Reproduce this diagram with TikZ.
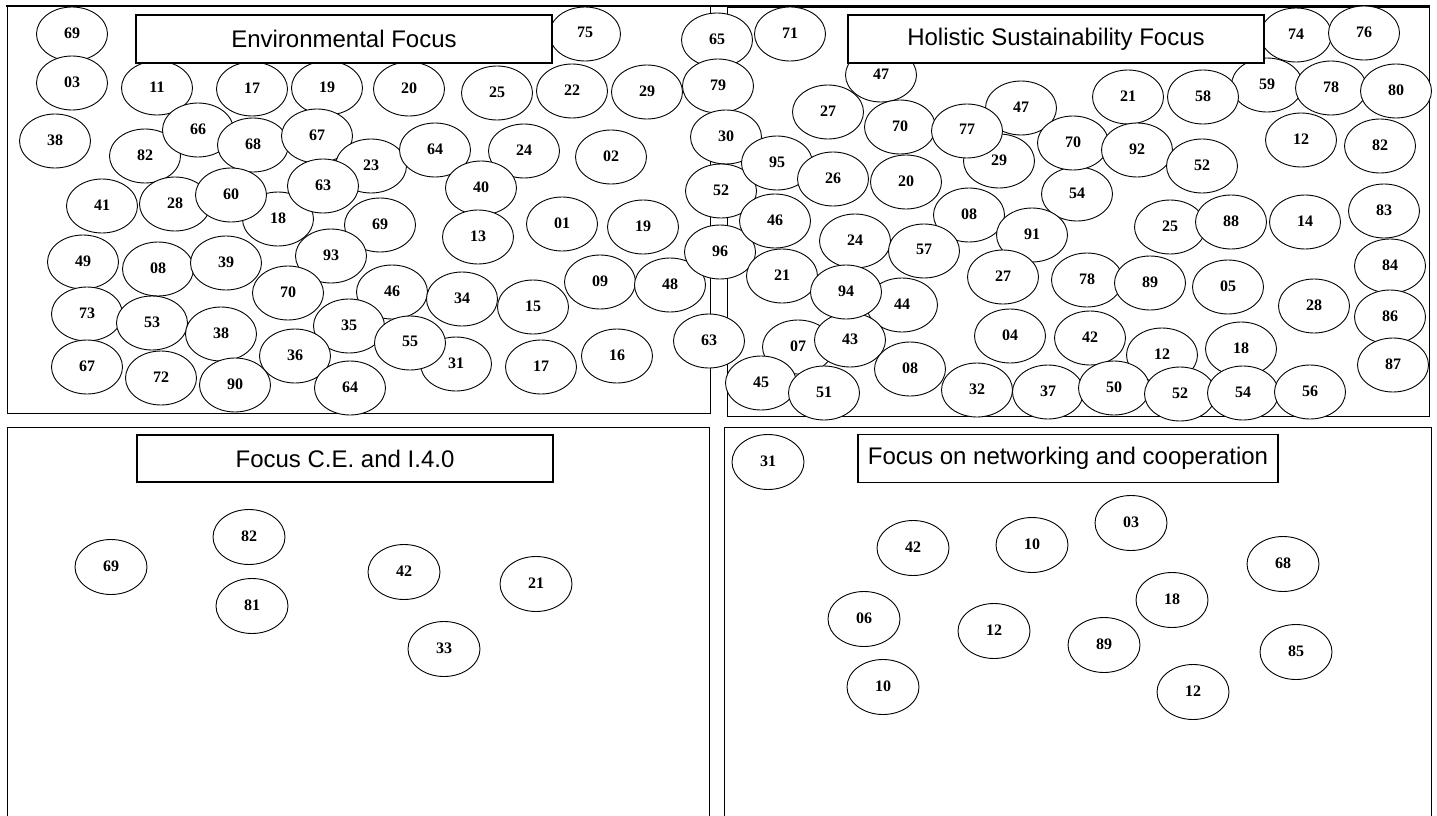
\documentclass[tikz,border=0pt]{standalone}
\usepackage{fontspec}
\newfontfamily\numfont{Liberation Serif}
\newfontfamily\titlefont{Liberation Sans}
\usetikzlibrary{shapes.geometric}
\tikzset{
  ell/.style={ellipse, draw=black, fill=white, line width=0.9pt, minimum width=71pt, minimum height=54pt, inner sep=0pt,
    font=\numfont\bfseries\fontsize{16}{16}\selectfont},
  ellb/.style={ell, minimum width=72pt, minimum height=55pt},
  titlebox/.style={draw=black, fill=white, line width=1.2pt, minimum width=416pt, minimum height=48pt, inner sep=0pt,
    font=\titlefont\fontsize{24}{24}\selectfont},
  frame/.style={draw=black, line width=1pt}
}
\newcommand\E[4]{\node[ell] (#1) at (#2,#3) {\raisebox{2.5pt}{#4}};}
\newcommand\B[4]{\node[ellb] (#1) at (#2,#3) {\raisebox{2.5pt}{#4}};}
\begin{document}
\begin{tikzpicture}[x=1pt,y=-1pt]
\useasboundingbox (0,0) rectangle (1437,816);
% frames
\draw[line width=2pt] (6,6) -- (1430,6);
\draw[frame] (7,6) rectangle (710,413);
\draw[frame] (727,8) rectangle (1429,416);
\draw[frame] (7,816) -- (7,427) -- (709,427) -- (709,816);
\draw[frame] (724,816) -- (724,427) -- (1431,427) -- (1431,816);
% top-left quadrant
\E{a69}{72}{34}{69}
\E{a03}{72}{83}{03}
\E{a11}{157}{88}{11}
\E{a17}{252}{89}{17}
\E{a19}{327}{88}{19}
\E{a20}{409}{89}{20}
\E{a25}{497}{93}{25}
\E{a22}{572}{91}{22}
\E{a29}{647}{92}{29}
\E{a75}{585}{34}{75}
\E{a38}{55}{141}{38}
\E{a82}{145}{156}{82}
\E{a66}{198}{130}{66}
\E{a68}{253}{145}{68}
\E{a67}{317}{136}{67}
\E{a23}{371}{166}{23}
\E{a64}{435}{150}{64}
\E{a24}{524}{151}{24}
\E{a02}{611}{157}{02}
\E{a40}{481}{188}{40}
\E{a41}{102}{206}{41}
\E{a28}{175}{204}{28}
\E{a18}{278}{219}{18}
\E{a60}{231}{195}{60}
\E{a63}{323}{186}{63}
\E{a69b}{380}{225}{69}
\E{a13}{478}{237}{13}
\E{a01}{562}{224}{01}
\E{a19b}{643}{227}{19}
\E{a49}{83}{262}{49}
\E{a08}{158}{269}{08}
\E{a39}{226}{263}{39}
\E{a93}{331}{256}{93}
\E{a70}{288}{293}{70}
\E{a09}{600}{282}{09}
\E{a48}{670}{285}{48}
\E{a73}{87}{314}{73}
\E{a53}{152}{323}{53}
\E{a38b}{221}{334}{38}
\E{a46}{392}{292}{46}
\E{a34}{462}{299}{34}
\E{a15}{533}{307}{15}
\E{a35}{349}{326}{35}
\E{a36}{295}{356}{36}
\E{a67b}{87}{367}{67}
\E{a72}{161}{378}{72}
\E{a90}{235}{385}{90}
\E{a64b}{350}{388}{64}
\E{a31}{456}{364}{31}
\E{a55}{410}{343}{55}
\E{a17b}{541}{367}{17}
\E{a16}{617}{356}{16}
% middle column
\E{m65}{717}{40}{65}
\E{m79}{718}{86}{79}
\E{m30}{726}{137}{30}
\E{m52}{721}{191}{52}
\E{m96}{720}{252}{96}
\E{m63}{709}{341}{63}
\E{m71}{790}{34}{71}
% top-right quadrant
\E{b47}{881}{75}{47}
\E{b74}{1296}{35}{74}
\E{b76}{1364}{33}{76}
\E{b59}{1267}{85}{59}
\E{b78}{1331}{88}{78}
\E{b80}{1396}{91}{80}
\E{b21}{1128}{97}{21}
\E{b58}{1203}{97}{58}
\E{b27}{828}{112}{27}
\E{b47b}{1021}{108}{47}
\E{b29}{999}{161}{29}
\E{b70}{900}{127}{70}
\E{b77}{967}{131}{77}
\E{b54}{1077}{194}{54}
\E{b70b}{1073}{143}{70}
\E{b92}{1137}{150}{92}
\E{b12}{1301}{140}{12}
\E{b82}{1380}{146}{82}
\E{b52}{1202}{166}{52}
\E{b95}{777}{163}{95}
\E{b26}{833}{179}{26}
\E{b20}{906}{182}{20}
\E{b46}{775}{221}{46}
\E{b08}{969}{215}{08}
\E{b25}{1170}{227}{25}
\E{b88}{1231}{222}{88}
\E{b14}{1305}{222}{14}
\E{b83}{1384}{211}{83}
\E{b24}{855}{241}{24}
\E{b57}{924}{251}{57}
\E{b91}{1032}{235}{91}
\E{b84}{1390}{266}{84}
\E{b21b}{782}{276}{21}
\E{b27b}{1003}{277}{27}
\E{b78b}{1087}{280}{78}
\E{b89}{1150}{283}{89}
\E{b05}{1228}{287}{05}
\E{b44}{902}{305}{44}
\E{b07}{798}{347}{07}
\E{b43}{850}{340}{43}
\E{b94}{846}{292}{94}
\E{b28}{1314}{306}{28}
\E{b86}{1390}{317}{86}
\E{b04}{1010}{336}{04}
\E{b42}{1090}{338}{42}
\E{b18}{1241}{349}{18}
\E{b12b}{1162}{355}{12}
\E{b87}{1393}{365}{87}
\E{b08b}{910}{369}{08}
\E{b45}{761}{383}{45}
\E{b51}{824}{393}{51}
\E{b32}{977}{390}{32}
\E{b37}{1048}{392}{37}
\E{b50}{1114}{388}{50}
\E{b52b}{1180}{394}{52}
\E{b54b}{1243}{393}{54}
\E{b56}{1310}{392}{56}
% bottom-left quadrant
\B{c82}{249}{537}{82}
\B{c69}{111}{567}{69}
\B{c81}{252}{606}{81}
\B{c42}{404}{572}{42}
\B{c21}{536}{584}{21}
\B{c33}{444}{649}{33}
% bottom-right quadrant
\B{d31}{768}{462}{31}
\B{d42}{913}{548}{42}
\B{d10}{1032}{545}{10}
\B{d03}{1131}{523}{03}
\B{d68}{1283}{564}{68}
\B{d18}{1172}{600}{18}
\B{d06}{864}{619}{06}
\B{d12}{994}{631}{12}
\B{d89}{1104}{645}{89}
\B{d85}{1296}{652}{85}
\B{d10b}{883}{687}{10}
\B{d12b}{1193}{692}{12}
% titles
\node[titlebox] (t1) at (344,39) {Environmental Focus};
\node[titlebox] (t2) at (1056,39) {Holistic Sustainability Focus};
\node[titlebox, minimum height=47pt] (t3) at (345,458.5) {Focus C.E. and I.4.0};
\node[titlebox, minimum width=420pt, minimum height=48pt] (t4) at (1068,458.5) {Focus on networking and cooperation};
\end{tikzpicture}
\end{document}
